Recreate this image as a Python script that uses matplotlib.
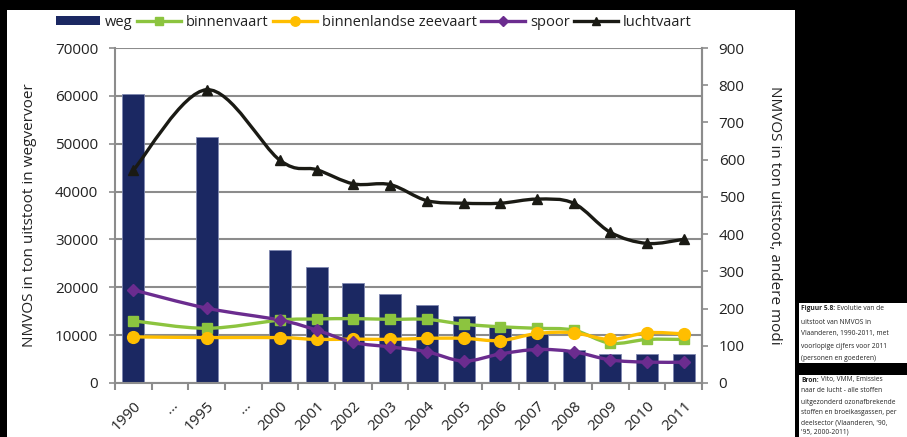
import matplotlib
matplotlib.use("Agg")
import matplotlib.pyplot as plt
import numpy as np
from matplotlib.path import Path
from matplotlib.patches import PathPatch, Rectangle, Patch
from matplotlib.lines import Line2D

plt.rcParams['font.family'] = ['Open Sans', 'DejaVu Sans']

# categories on the x axis ("..." marks skipped years)
labels = ['1990', '…', '1995', '…', '2000', '2001', '2002', '2003', '2004',
          '2005', '2006', '2007', '2008', '2009', '2010', '2011']
years = ['1990', '1995', '2000', '2001', '2002', '2003', '2004', '2005',
         '2006', '2007', '2008', '2009', '2010', '2011']

# left axis: road transport (ton)
weg = [60400, 51400, 27700, 24300, 21000, 18600, 16200, 13900,
       11600, 10200, 7000, 6000, 6000, 6000]
# right axis: other modes (ton)
binnenvaart = [167, 147, 169, 172, 173, 171, 171, 158, 151, 147, 142, 107, 117, 117]
zeevaart = [124, 122, 122, 117, 118, 117, 120, 120, 114, 133, 135, 117, 135, 132]
spoor = [250, 201, 169, 142, 109, 97, 84, 59, 78, 90, 84, 62, 56, 56]
luchtvaart = [572, 788, 598, 573, 535, 533, 490, 483, 483, 494, 483, 405, 375, 386]

xpos = np.array([labels.index(y) for y in years], dtype=float)

c_weg = '#1b2862'
c_green = '#8cc43f'
c_yellow = '#ffbe00'
c_purple = '#6b2c8f'
c_black = '#1a1a14'
c_grid = '#8c8c8c'
c_text = '#222222'
fs = 11


def smooth_path(x, y):
    # cubic bezier segments through the points (Excel-like smoothed line)
    pts = np.column_stack([x, y])
    n = len(pts)
    verts = [pts[0]]
    codes = [Path.MOVETO]
    for i in range(n - 1):
        p0 = pts[i - 1] if i > 0 else pts[i]
        p1 = pts[i]
        p2 = pts[i + 1]
        p3 = pts[i + 2] if i + 2 < n else pts[i + 1]
        verts += [p1 + (p2 - p0) / 6, p2 - (p3 - p1) / 6, p2]
        codes += [Path.CURVE4] * 3
    return Path(verts, codes)


fig = plt.figure(figsize=(9.07, 4.37), dpi=100, facecolor='black')
W, H = 907, 437

# white chart panel and caption boxes
for (x0, y0, x1, y1) in [(7, 10, 795, 437), (799, 303, 907, 363), (799, 375, 907, 437)]:
    fig.patches.append(Rectangle((x0 / W, 1 - y1 / H), (x1 - x0) / W, (y1 - y0) / H,
                                 transform=fig.transFigure, facecolor='white',
                                 edgecolor='none', zorder=-1))

ax = fig.add_axes([115 / W, (H - 383) / H, (702 - 115) / W, (383 - 48) / H])
ax.set_zorder(2)
ax.set_facecolor('none')
ax.bar(xpos, weg, width=0.6, color=c_weg, edgecolor='#7f88b0', linewidth=0.6, zorder=2)
ax.set_xlim(-0.5, len(labels) - 0.5)
ax.set_ylim(0, 70000)
ax.set_yticks(np.arange(0, 70001, 10000))
ax.set_axisbelow(True)
ax.grid(axis='y', color=c_grid, linewidth=1.5)
ax.set_xticks(np.arange(len(labels)))
ax.set_xticklabels(labels, rotation=45, ha='right', rotation_mode='anchor', fontsize=fs,
                   color=c_text)
ax.set_xticks(np.arange(-0.5, len(labels)), minor=True)
ax.tick_params(axis='x', which='major', length=0, pad=11)
ax.tick_params(axis='x', which='minor', length=5, color=c_grid, width=1.5)
ax.tick_params(axis='y', length=4, color=c_grid, width=1.2, labelsize=fs,
               labelcolor=c_text, pad=8)
ax.set_ylabel('NMVOS in ton uitstoot in wegvervoer', fontsize=fs, color=c_text,
              labelpad=13)
ax.spines['top'].set_visible(False)
for s in ['left', 'right', 'bottom']:
    ax.spines[s].set_color(c_grid)
    ax.spines[s].set_linewidth(1.5)

ax2 = ax.twinx()
ax2.set_zorder(3)
ax2.set_ylim(0, 900)
ax2.set_yticks(np.arange(0, 901, 100))
ax2.tick_params(axis='y', length=4, color=c_grid, width=1.2, labelsize=fs,
                labelcolor=c_text, pad=8)
ax2.set_ylabel('NMVOS in ton uitstoot, andere modi', fontsize=fs, color=c_text,
               rotation=-90, labelpad=27)
for s in ['top', 'left', 'bottom']:
    ax2.spines[s].set_visible(False)
ax2.spines['right'].set_color(c_grid)
ax2.spines['right'].set_linewidth(1.5)

series = [
    (binnenvaart, c_green, 's', 7.5),
    (zeevaart, c_yellow, 'o', 8.5),
    (spoor, c_purple, 'D', 6),
    (luchtvaart, c_black, '^', 7.5),
]
for vals, col, mk, ms in series:
    ax2.add_patch(PathPatch(smooth_path(xpos, np.array(vals, dtype=float)),
                            facecolor='none', edgecolor=col, linewidth=2.4,
                            capstyle='round', joinstyle='round', zorder=3))
    ax2.plot(xpos, vals, linestyle='none', marker=mk, markersize=ms, color=col, zorder=4)

handles = [Patch(facecolor=c_weg, edgecolor='none')]
names = ['weg', 'binnenvaart', 'binnenlandse zeevaart', 'spoor', 'luchtvaart']
for vals, col, mk, ms in series:
    handles.append(Line2D([], [], color=col, linewidth=2.4, marker=mk, markersize=ms * 0.8))
fig.legend(handles, names, loc='center', bbox_to_anchor=(374 / W, 1 - 22 / H), ncol=5,
           frameon=False, fontsize=10.5, handlelength=3.0, handleheight=0.6,
           handletextpad=0.35, columnspacing=0.3, labelcolor=c_text,
           borderpad=0, borderaxespad=0)

# caption texts on the right
cap_fs = 4.8
cap1 = [('Figuur 5.8:', 'Evolutie van de'), 'uitstoot van NMVOS in',
        'Vlaanderen, 1990-2011, met', 'voorlopige cijfers voor 2011',
        '(personen en goederen)']
cap1_y = [309, 322, 334, 346, 358]
cap2 = [('Bron:', 'Vito, VMM, Emissies'), 'naar de lucht - alle stoffen',
        'uitgezonderd ozonafbrekende', 'stoffen en broeikasgassen, per',
        "deelsector (Vlaanderen, '90,", "'95, 2000-2011)"]
cap2_y = [380, 391, 402, 413, 423, 432]

fig.canvas.draw()
for lines, ys in [(cap1, cap1_y), (cap2, cap2_y)]:
    for txt, yy in zip(lines, ys):
        if isinstance(txt, tuple):
            b = fig.text(801 / W, 1 - yy / H, txt[0], fontsize=cap_fs, fontweight='bold',
                         va='center', color=c_text)
            bb = b.get_window_extent(renderer=fig.canvas.get_renderer())
            fig.text((bb.x1 + 2) / W, 1 - yy / H, txt[1], fontsize=cap_fs, va='center',
                     color=c_text)
        else:
            fig.text(801 / W, 1 - yy / H, txt, fontsize=cap_fs, va='center', color=c_text)

fig.savefig('out.png', dpi=100, facecolor='black')
